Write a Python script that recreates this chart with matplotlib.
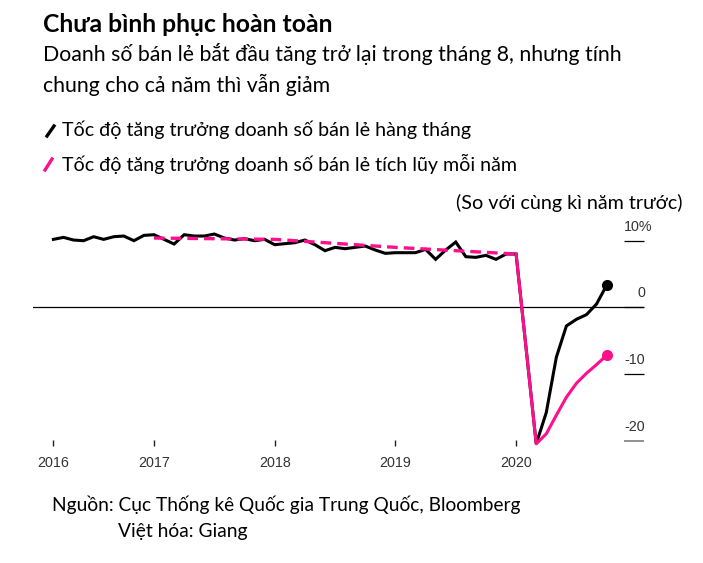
import matplotlib
matplotlib.use("Agg")
import matplotlib.pyplot as plt
from matplotlib.lines import Line2D

W, H = 703, 563

# monthly retail sales growth (% y/y), Jan-Feb combined -> one point at end of Feb
monthly_2016 = [10.2, 10.5, 10.1, 10.0, 10.6, 10.2, 10.6, 10.7, 10.0, 10.8, 10.9]
monthly_2017 = [9.5, 10.9, 10.7, 10.7, 11.0, 10.4, 10.1, 10.3, 10.0, 10.2, 9.4]
monthly_2018 = [9.7, 10.1, 9.4, 8.5, 9.0, 8.8, 9.0, 9.2, 8.6, 8.1, 8.2]
monthly_2019 = [8.2, 8.7, 7.2, 8.6, 9.8, 7.6, 7.5, 7.8, 7.2, 8.0, 8.0]
monthly_2020 = [-20.5, -15.8, -7.5, -2.8, -1.8, -1.1, 0.5, 3.3]

# cumulative year-to-date growth
annual_years = [2016, 2017, 2018, 2019]
annual_values = [10.4, 10.2, 9.0, 8.0]
ytd_2020 = [-20.5, -19.0, -16.2, -13.5, -11.4, -9.9, -8.6, -7.2]

year_labels = ["2016", "2017", "2018", "2019", "2020"]
y_ticks = [10, 0, -10, -20]
y_tick_labels = ["10%", "0", "-10", "-20"]

BLACK = "#000000"
PINK = "#ff0f8c"
GREY_TXT = "#333333"


def month_end(year, month):
    return year + month / 12.0


monthly_vals = monthly_2016 + monthly_2017 + monthly_2018 + monthly_2019 + monthly_2020
monthly_x = []
for yr, n in [(2016, 11), (2017, 11), (2018, 11), (2019, 11), (2020, 8)]:
    monthly_x += [month_end(yr, m) for m in range(2, 2 + n)]

annual_x = [month_end(y, 12) for y in annual_years]
ytd_x = [month_end(2019, 12)] + [month_end(2020, m) for m in range(2, 10)]
ytd_vals = [annual_values[-1]] + ytd_2020

fig = plt.figure(figsize=(W / 100, H / 100), dpi=100)
fig.patch.set_facecolor("white")


def fx(x):
    return x / W


def fy(y):
    return 1 - y / H


# axes area in pixels: left 33, right 644, top 230, bottom 446
ax = fig.add_axes([fx(33), fy(446), (644 - 33) / W, (446 - 230) / H])
px_per_year = 120.7
x0 = 2016 - 0.3 / px_per_year
ax.set_xlim(x0, x0 + 611 / px_per_year)
px_per_unit = 6.66
ax.set_ylim((307.3 - 446) / px_per_unit, (307.3 - 230) / px_per_unit)
for s in ax.spines.values():
    s.set_visible(False)
ax.set_yticks([])

# zero line
ax.axhline(0, color=BLACK, lw=0.9, zorder=1)

# right-side tick marks and labels
ytr = ax.get_yaxis_transform()
for v, lab in zip(y_ticks, y_tick_labels):
    col = "#888888" if v == -20 else BLACK
    ax.plot([0.967, 1.0], [v, v], color=col, lw=1.3 if v == -20 else 0.9,
            transform=ytr, clip_on=False, solid_capstyle="butt")
    xr = 1.013 if lab.endswith("%") else 1.002
    ax.text(xr, v + 2.1, lab, transform=ytr, ha="right", va="center",
            fontsize=10.3, color=GREY_TXT, family="Liberation Sans")

# x ticks
xt = [monthly_x[0]] + [2017, 2018, 2019, 2020]
ax.set_xticks(xt)
ax.set_xticklabels(year_labels, family="Liberation Sans", fontsize=10.3, color=GREY_TXT)
ax.tick_params(axis="x", direction="in", length=4, width=1, color="#222222", pad=7)

# data lines
ax.plot(monthly_x, monthly_vals, color=BLACK, lw=2.2, zorder=3,
        solid_joinstyle="miter", clip_on=False)
ax.plot(monthly_x[-1], monthly_vals[-1], "o", color=BLACK, ms=7, zorder=4, clip_on=False)
ax.plot(annual_x, annual_values, color=PINK, lw=2.4, ls=(0, (3.2, 1.8)), zorder=4)
ax.plot(ytd_x, ytd_vals, color=PINK, lw=2.2, zorder=5, clip_on=False)
ax.plot(ytd_x[-1], ytd_vals[-1], "o", color=PINK, ms=7, zorder=6, clip_on=False)

# texts
F = "Lato"
fig.text(fx(43), fy(25), "Chưa bình phục hoàn toàn", fontsize=17.8, fontweight="bold",
         family=F, va="center", ha="left")
fig.text(fx(43), fy(54), "Doanh số bán lẻ bắt đầu tăng trở lại trong tháng 8, nhưng tính",
         fontsize=15.3, family=F, va="center", ha="left")
fig.text(fx(43), fy(85), "chung cho cả năm thì vẫn giảm",
         fontsize=15.3, family=F, va="center", ha="left")

fig.add_artist(Line2D([fx(47), fx(54)], [fy(136), fy(126)], color=BLACK, lw=2.4,
                      transform=fig.transFigure))
fig.text(fx(62), fy(130), "Tốc độ tăng trưởng doanh số bán lẻ hàng tháng",
         fontsize=14.1, family=F, va="center", ha="left")
fig.add_artist(Line2D([fx(45), fx(52)], [fy(170), fy(159)], color=PINK, lw=2.4,
                      transform=fig.transFigure))
fig.text(fx(62), fy(164), "Tốc độ tăng trưởng doanh số bán lẻ tích lũy mỗi năm",
         fontsize=14.1, family=F, va="center", ha="left")

fig.text(fx(683), fy(203), "(So với cùng kì năm trước)", fontsize=14.2, family=F,
         va="center", ha="right")

fig.text(fx(52), fy(505), "Nguồn: Cục Thống kê Quốc gia Trung Quốc, Bloomberg",
         fontsize=13.8, family=F, va="center", ha="left")
fig.text(fx(118), fy(531), "Việt hóa: Giang", fontsize=13.9, family=F,
         va="center", ha="left")

fig.savefig("out.png", dpi=100)
